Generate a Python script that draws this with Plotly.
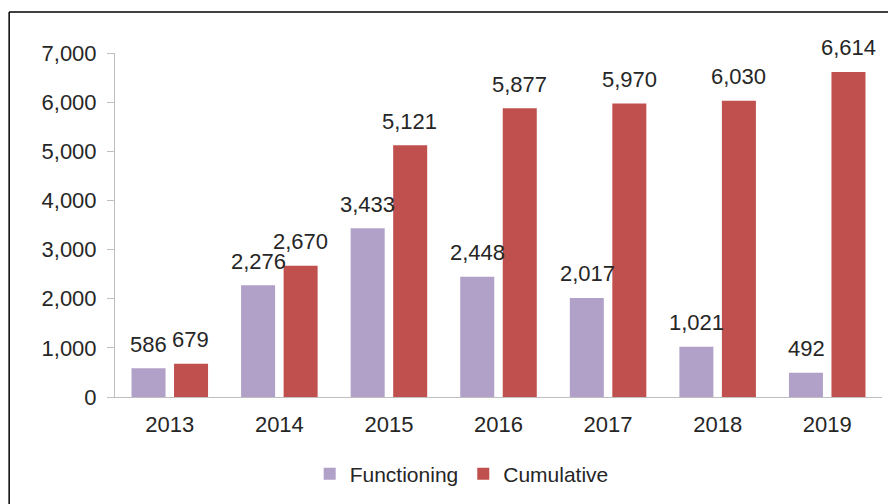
import plotly.graph_objects as go

years = ["2013", "2014", "2015", "2016", "2017", "2018", "2019"]
functioning = [586, 2276, 3433, 2448, 2017, 1021, 492]
cumulative = [679, 2670, 5121, 5877, 5970, 6030, 6614]
y_ticks = [0, 1000, 2000, 3000, 4000, 5000, 6000, 7000]

PURPLE = "#B1A0C7"
RED = "#C0504D"
FONT = "Liberation Sans, Arial, sans-serif"
TXT = "#262626"

fig = go.Figure()
fig.add_trace(go.Bar(name="Functioning", x=years, y=functioning,
                     marker=dict(color=PURPLE, line=dict(width=0))))
fig.add_trace(go.Bar(name="Cumulative", x=years, y=cumulative,
                     marker=dict(color=RED, line=dict(width=0))))

# value labels: category index on the category axis, nudged to each bar
for series, shift in ((functioning, -21), (cumulative, 21)):
    for i, v in enumerate(series):
        fig.add_annotation(x=i, y=v, text=f"{v:,}", showarrow=False,
                           xshift=shift, yshift=24, yanchor="middle",
                           font=dict(family=FONT, size=22, color=TXT))

# outer frame (top and left edges)
fig.add_shape(type="line", xref="paper", yref="paper",
              x0=-0.138, y0=1.119, x1=1.014, y1=1.119,
              line=dict(color="black", width=1.5))
fig.add_shape(type="line", xref="paper", yref="paper",
              x0=-0.138, y0=1.119, x1=-0.138, y1=-0.35,
              line=dict(color="black", width=1.5))

fig.update_layout(
    width=896, height=504,
    margin=dict(l=107, r=22, t=45, b=115),
    paper_bgcolor="white", plot_bgcolor="white",
    barmode="group", bargap=0.224, bargroupgap=0.2,
    font=dict(family=FONT, size=22, color=TXT),
    showlegend=True,
    legend=dict(orientation="h", x=0.452, y=-0.224, xanchor="center",
                yanchor="middle", font=dict(size=21, color=TXT),
                itemwidth=30, tracegroupgap=0),
    xaxis=dict(type="category", range=[-0.5, len(years) - 0.5],
               showline=True, linecolor="#BFBFBF", linewidth=1,
               ticks="", ticklabelstandoff=8, showgrid=False,
               tickfont=dict(size=22, color=TXT)),
    yaxis=dict(range=[0, 7000], tickvals=y_ticks, tickformat=",",
               showline=True, linecolor="#BFBFBF", linewidth=1,
               ticks="outside", ticklen=7, tickcolor="#BFBFBF",
               ticklabelstandoff=6, showgrid=False, zeroline=False,
               tickfont=dict(size=22, color=TXT)),
)

fig.write_html("out.html")
